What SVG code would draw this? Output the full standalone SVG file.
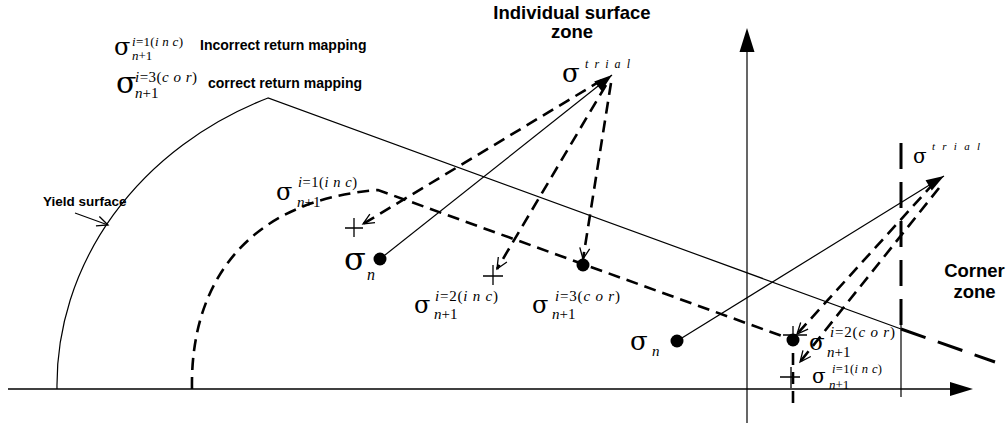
<svg xmlns="http://www.w3.org/2000/svg" width="1006" height="425" viewBox="0 0 1006 425">
<style>
.m{font-family:"Liberation Serif","Times New Roman",serif;fill:#000}
.s{font-family:"DejaVu Serif","Liberation Serif",serif;fill:#000}
.it{font-style:italic}
.b{font-family:"Liberation Sans",Arial,sans-serif;font-weight:bold;fill:#000}
.thin{stroke:#000;stroke-width:1.2;fill:none}
.axis{stroke:#000;stroke-width:1.5;fill:none}
.dash{stroke:#000;stroke-width:2.6;fill:none;stroke-dasharray:12 7}
.ldash{stroke:#000;stroke-width:3;fill:none;stroke-dasharray:26 13}
.cross{stroke:#000;stroke-width:1.3;fill:none}
</style>
<defs>
<marker id="fa" markerUnits="userSpaceOnUse" markerWidth="20" markerHeight="14" refX="18" refY="6" orient="auto" overflow="visible">
<path d="M0,0 L18,6 L0,12 z" fill="#000"/>
</marker>
<marker id="va" markerUnits="userSpaceOnUse" markerWidth="14" markerHeight="12" refX="12" refY="6" orient="auto" overflow="visible">
<path d="M1,1 L12,6 L1,11" fill="none" stroke="#000" stroke-width="1.3"/>
</marker>
</defs>
<rect width="1006" height="425" fill="#fff"/>

<g id="axes">
<line class="axis" x1="8" y1="389" x2="952" y2="389"/>
<polygon points="950,382 973,389 950,396" fill="#000"/>
<line class="thin" x1="747" y1="50" x2="747" y2="423"/>
<polygon points="739.5,52 747,28 754.5,52" fill="#000"/>
</g>

<g id="yield-surface">
<path class="thin" d="M57,389 A350,313 0 0 1 268,98 L901,329"/>
<path class="ldash" d="M901,329 L995,362"/>
<text class="b" x="43" y="206" font-size="13.5">Yield surface</text>
<line class="thin" x1="75" y1="213" x2="108" y2="225" marker-end="url(#va)"/>
</g>

<g id="inner-surface">
<path class="dash" d="M192,389 C190,280 250,200 378,190 L793,340 L793,407"/>
</g>

<g id="corner-zone-boundary">
<line class="ldash" x1="901" y1="143" x2="901" y2="337"/>
<line class="thin" x1="901" y1="300" x2="901" y2="397"/>
</g>

<g id="legend">
<text class="s" x="114" y="55" font-size="24">σ</text>
<text class="m" x="132" y="46" font-size="13" textLength="51" lengthAdjust="spacing"><tspan class="it">i</tspan>=1(<tspan class="it">i n c</tspan>)</text>
<text class="m" x="132" y="60" font-size="13"><tspan class="it">n</tspan>+1</text>
<text class="b" x="200" y="50" font-size="14">Incorrect return mapping</text>
<text class="s" x="116" y="93" font-size="30">σ</text>
<text class="m" x="135" y="82" font-size="15" textLength="62" lengthAdjust="spacing"><tspan class="it">i</tspan>=3(<tspan class="it">c o r</tspan>)</text>
<text class="m" x="135" y="98" font-size="15"><tspan class="it">n</tspan>+1</text>
<text class="b" x="208" y="88" font-size="14">correct return mapping</text>
</g>

<g id="zone-labels">
<text class="b" x="572" y="19" font-size="18.5" text-anchor="middle">Individual surface</text>
<text class="b" x="572" y="38" font-size="18.5" text-anchor="middle">zone</text>
<text class="b" x="974.5" y="277" font-size="18.5" text-anchor="middle">Corner</text>
<text class="b" x="974.5" y="298" font-size="18.5" text-anchor="middle">zone</text>
</g>

<g id="node-sigma-n-1">
<circle cx="380" cy="259" r="6.5" fill="#000"/>
<text class="s" x="344" y="270" font-size="32">σ</text>
<text class="m it" x="367" y="280" font-size="16">n</text>
</g>

<g id="node-trial-1">
<text class="s" x="562" y="82" font-size="26">σ</text>
<text class="m it" x="585" y="68" font-size="12" textLength="45" lengthAdjust="spacing">t r i a l</text>
</g>

<g id="node-inc-1">
<path class="cross" d="M345,228 H363 M354,218 V237"/>
<text class="s" x="276" y="200" font-size="24">σ</text>
<text class="m" x="298" y="187" font-size="14.5" textLength="59" lengthAdjust="spacing"><tspan class="it">i</tspan>=1(<tspan class="it">i n c</tspan>)</text>
<text class="m" x="297" y="207" font-size="15"><tspan class="it">n</tspan>+1</text>
</g>

<g id="node-inc-2">
<path class="cross" d="M483,276 H503 M493,265 V285"/>
<text class="s" x="414" y="313" font-size="24">σ</text>
<text class="m" x="435" y="301" font-size="15" textLength="63" lengthAdjust="spacing"><tspan class="it">i</tspan>=2(<tspan class="it">i n c</tspan>)</text>
<text class="m" x="434" y="319" font-size="15"><tspan class="it">n</tspan>+1</text>
</g>

<g id="node-cor-3">
<circle cx="583" cy="265" r="6.5" fill="#000"/>
<text class="s" x="532" y="313" font-size="24">σ</text>
<text class="m" x="555" y="301" font-size="15" textLength="65" lengthAdjust="spacing"><tspan class="it">i</tspan>=3(<tspan class="it">c o r</tspan>)</text>
<text class="m" x="552" y="319" font-size="15"><tspan class="it">n</tspan>+1</text>
</g>

<g id="node-sigma-n-2">
<circle cx="677" cy="341" r="6.5" fill="#000"/>
<text class="s" x="630" y="350" font-size="26">σ</text>
<text class="m it" x="652" y="356" font-size="15">n</text>
</g>

<g id="node-trial-2">
<text class="s" x="913" y="163" font-size="20">σ</text>
<text class="m it" x="932" y="150" font-size="11" textLength="48" lengthAdjust="spacing">t r i a l</text>
</g>

<g id="node-cor-2-corner">
<circle cx="793" cy="340" r="6.5" fill="#000"/>
<path class="cross" d="M783,335 H807 M793,326 V346"/>
<text class="s" x="809" y="350" font-size="23">σ</text>
<text class="m" x="830" y="337" font-size="15" textLength="65" lengthAdjust="spacing"><tspan class="it">i</tspan>=2(<tspan class="it">c o r</tspan>)</text>
<text class="m" x="827" y="357" font-size="15"><tspan class="it">n</tspan>+1</text>
</g>

<g id="node-inc-1-corner">
<path class="cross" d="M780,377 H800 M791,367 V388"/>
<text class="s" x="812" y="383" font-size="20">σ</text>
<text class="m" x="832" y="373" font-size="12.5" textLength="50" lengthAdjust="spacing"><tspan class="it">i</tspan>=1(<tspan class="it">i n c</tspan>)</text>
<text class="m" x="829" y="389" font-size="13"><tspan class="it">n</tspan>+1</text>
</g>

<g id="connectors">
<line class="thin" x1="380" y1="259" x2="612" y2="75" marker-end="url(#fa)"/>
<line class="dash" x1="602" y1="80" x2="363" y2="224" marker-end="url(#va)"/>
<line class="dash" x1="606" y1="85" x2="497" y2="269" marker-end="url(#va)"/>
<line class="dash" x1="611" y1="83" x2="583" y2="259" marker-end="url(#va)"/>
<line class="thin" x1="677" y1="341" x2="944" y2="176" marker-end="url(#fa)"/>
<line class="dash" x1="934" y1="183" x2="797" y2="334" marker-end="url(#va)"/>
<line class="dash" x1="939" y1="188" x2="800" y2="362" marker-end="url(#va)"/>
</g>
</svg>
